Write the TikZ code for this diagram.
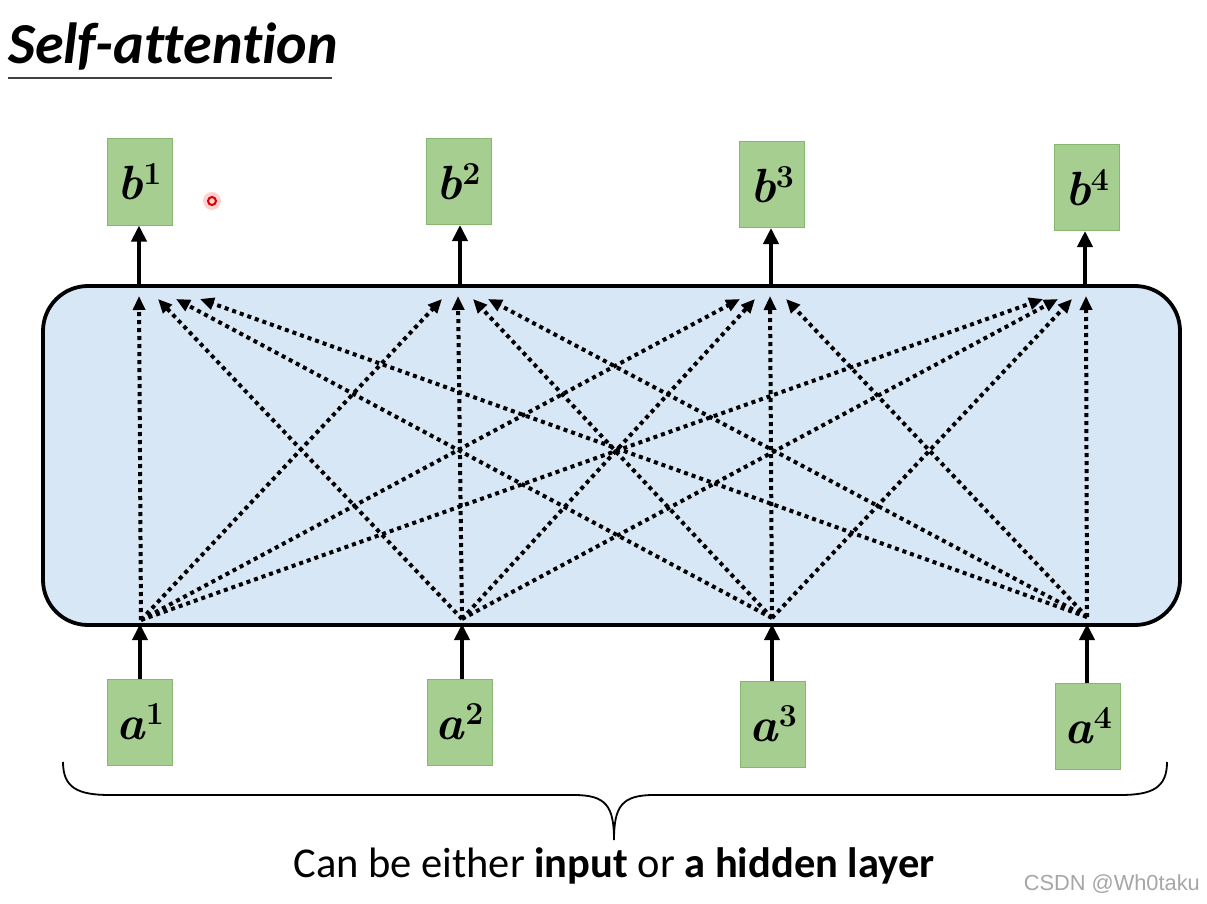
\documentclass[tikz,border=0pt]{standalone}
\usepackage{fontspec}
\newfontfamily\carlito[Ligatures=NoCommon]{Carlito}
\newfontfamily\wmfont{Liberation Sans}
\usetikzlibrary{arrows.meta}
\definecolor{boxgreen}{RGB}{166,206,145}
\definecolor{boxedge}{RGB}{135,182,112}
\definecolor{layerblue}{RGB}{216,231,245}
\newcommand{\vlab}[2]{\textbf{\textit{#1}}\raisebox{15pt}{\fontsize{32}{34}\selectfont\textbf{#2}}}
\tikzset{
  vecbox/.style={draw=boxedge, line width=1pt, fill=boxgreen, minimum width=65pt, minimum height=86pt, inner sep=0pt, font=\fontsize{48}{54}\selectfont},
  solidarrow/.style={line width=3.8pt, -{Triangle[length=16pt,width=15pt]}},
  attn/.style={line width=4pt, dash pattern=on 4pt off 4pt, -{Triangle[length=14pt,width=12pt]}},
}
\begin{document}
\begin{tikzpicture}[x=1pt,y=-1pt]
\useasboundingbox (0,0) rectangle (1207,904);
% title
\node[anchor=base west, inner sep=0pt, font=\carlito\bfseries\itshape\fontsize{58}{66}\selectfont] (title) at (8,64) {Self-attention};
\draw[line width=1.6pt, black!75] (8,78) coordinate (ul1) -- (332,78) coordinate (ul2);
% layer
\node[draw, line width=3.8pt, fill=layerblue, rounded corners=45pt, minimum width=1137pt, minimum height=339pt, inner sep=0pt] (layer) at (611.5,455.5) {};
% boxes
\node[vecbox] (b1) at (139.5,182) {\vlab{b}{1}};
\node[vecbox] (b2) at (458.5,181.5) {\vlab{b}{2}};
\node[vecbox] (b3) at (772,184.5) {\vlab{b}{3}};
\node[vecbox] (b4) at (1087,187.5) {\vlab{b}{4}};
\node[vecbox] (a1) at (140,722) {\vlab{a}{1}};
\node[vecbox] (a2) at (459.5,722) {\vlab{a}{2}};
\node[vecbox] (a3) at (773,724) {\vlab{a}{3}};
\node[vecbox] (a4) at (1088,726) {\vlab{a}{4}};
% solid arrows
\coordinate (tb1) at (139,288); \coordinate (tb2) at (460,288); \coordinate (tb3) at (771,288); \coordinate (tb4) at (1085,288);
\draw[solidarrow] (tb1) -- (tb1 |- b1.south);
\draw[solidarrow] (tb2) -- (tb2 |- b2.south);
\draw[solidarrow] (tb3) -- (tb3 |- b3.south);
\draw[solidarrow] (tb4) -- (tb4 |- b4.south);
\coordinate (ba1) at (140,624); \coordinate (ba2) at (462,624); \coordinate (ba3) at (772,624); \coordinate (ba4) at (1087,624);
\draw[solidarrow] (ba1 |- a1.north) -- (ba1);
\draw[solidarrow] (ba2 |- a2.north) -- (ba2);
\draw[solidarrow] (ba3 |- a3.north) -- (ba3);
\draw[solidarrow] (ba4 |- a4.north) -- (ba4);
% attention sources
\coordinate (s1) at (141,620); \coordinate (s2) at (462,619); \coordinate (s3) at (772,618); \coordinate (s4) at (1087,617);
% targets t<target><source>
\coordinate (t11) at (139,296); \coordinate (t12) at (158,299); \coordinate (t13) at (176,299); \coordinate (t14) at (200,299);
\coordinate (t21) at (442,299); \coordinate (t22) at (458,296); \coordinate (t23) at (473,299); \coordinate (t24) at (488,299);
\coordinate (t31) at (740,299); \coordinate (t32) at (755,299); \coordinate (t33) at (770,296); \coordinate (t34) at (786,299);
\coordinate (t41) at (1043,299); \coordinate (t42) at (1058,299); \coordinate (t43) at (1072,299); \coordinate (t44) at (1086,296);
\foreach \s in {1,2,3,4}{
  \foreach \t in {1,2,3,4}{
    \draw[attn] (s\s) -- (t\t\s);
  }
}
% brace
\draw[line width=1.8pt] (63,762) coordinate (br1) .. controls (63,788) and (78,795) .. (110,795) -- (574,795) .. controls (606,795) and (614,806) .. (614,840) coordinate (brtip) .. controls (614,806) and (622,795) .. (654,795) -- (1120,795) .. controls (1152,795) and (1167,788) .. (1167,762) coordinate (br2);
\node[anchor=base, inner sep=0pt, font=\carlito\fontsize{42.5}{48}\selectfont] (caption) at (614,877) {Can be either \textbf{input} or \textbf{a hidden layer}};
% watermark
\node[anchor=base east, inner sep=0pt, text=black!35, font=\wmfont\fontsize{21.8}{24}\selectfont] (wm) at (1200,890) {CSDN @Wh0taku};
% pointer dot
\fill[red!30, opacity=0.6] (212,201) circle (9);
\draw[red!85!black, line width=2pt] (212,201) circle (4) coordinate (dot);
\end{tikzpicture}
\end{document}
